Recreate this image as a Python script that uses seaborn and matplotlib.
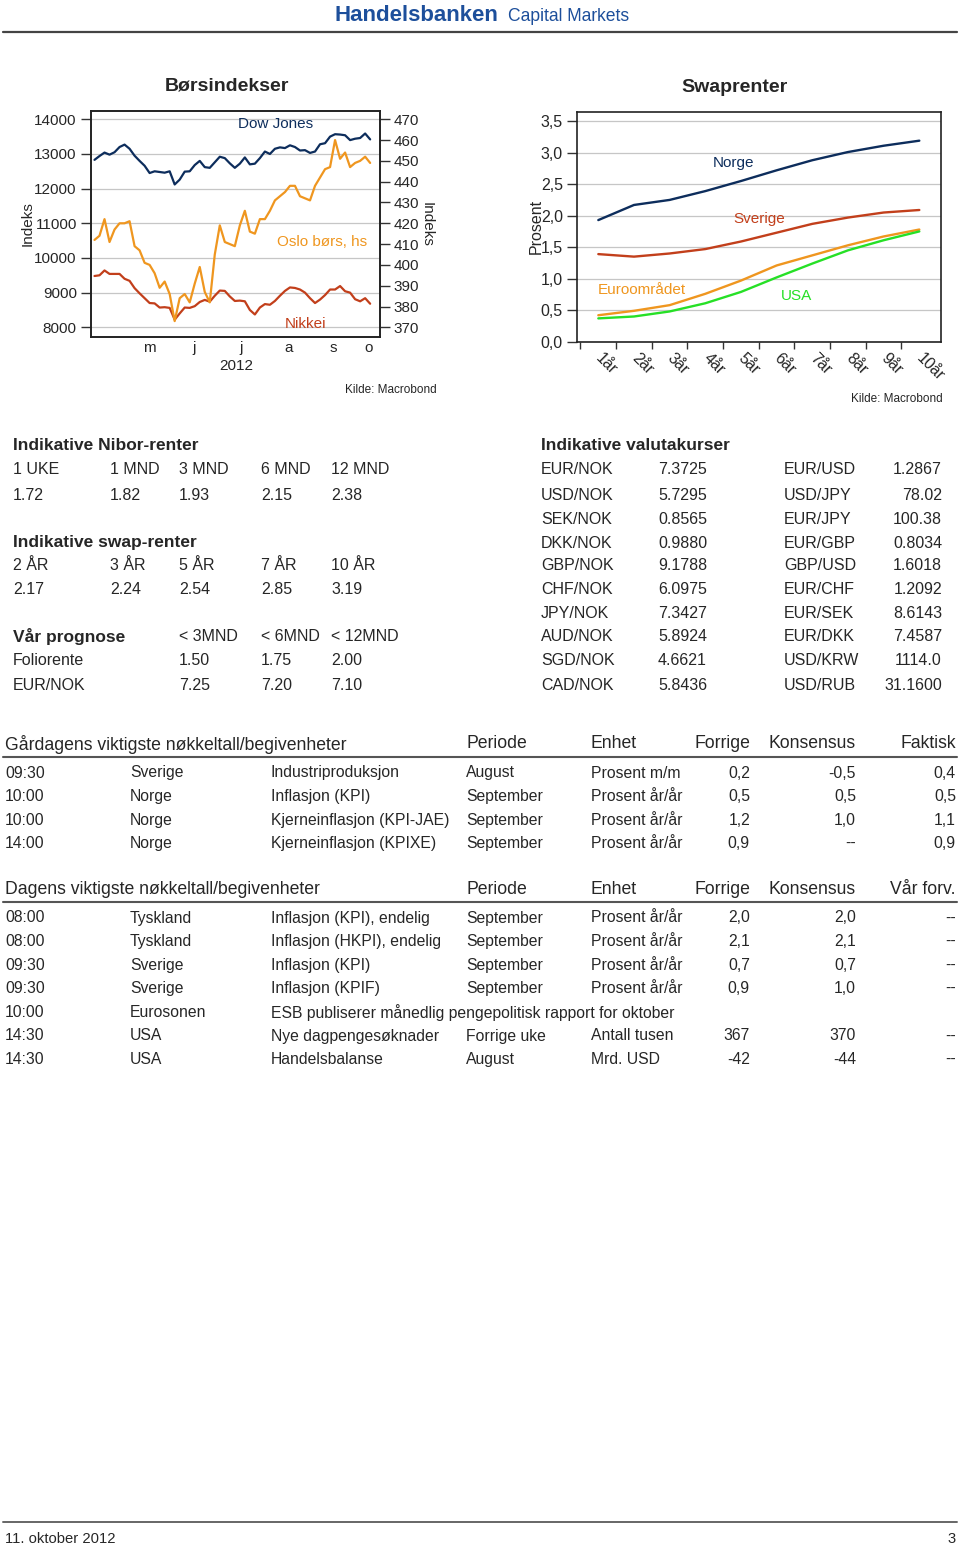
import numpy as np
import pandas as pd
import seaborn as sns
import matplotlib
matplotlib.use("Agg")
import matplotlib.pyplot as plt
import matplotlib.dates as mdates
from matplotlib import font_manager
from matplotlib.lines import Line2D
from matplotlib.ticker import NullFormatter

# ---------------- data: Børsindekser ----------------
dow = [12830, 12940, 13040, 12980, 13050, 13200, 13270, 13150, 12950, 12800,
       12660, 12450, 12500, 12480, 12460, 12500, 12120, 12260, 12490, 12500,
       12680, 12800, 12620, 12600, 12760, 12920, 12880, 12730, 12600, 12720,
       12900, 12700, 12720, 12880, 13070, 13000, 13150, 13190, 13170, 13250,
       13200, 13100, 13110, 13030, 13070, 13280, 13310, 13500, 13570, 13560,
       13540, 13400, 13440, 13460, 13590, 13420]
oslo = [412, 414, 422, 411, 417, 420, 420, 421, 409, 407,
        401, 400, 396, 389, 392, 386, 373, 384, 386, 382,
        391, 399, 387, 382, 405, 419, 411, 410, 409, 419,
        426, 416, 415, 422, 422, 426, 431, 433, 435, 438,
        438, 433, 432, 431, 438, 442, 446, 447, 460, 451,
        454, 447, 449, 450, 452, 449]
nikkei = [9480, 9500, 9640, 9540, 9540, 9540, 9400, 9340, 9130, 8980,
          8840, 8700, 8690, 8570, 8580, 8560, 8220, 8400, 8570, 8560,
          8610, 8730, 8790, 8740, 8910, 9060, 9050, 8890, 8760, 8770,
          8750, 8500, 8370, 8570, 8670, 8650, 8760, 8910, 9050, 9150,
          9135, 9090, 9000, 8840, 8700, 8800, 8930, 9090, 9090, 9190,
          9040, 9000, 8810, 8750, 8840, 8680]
datoer = pd.date_range("2012-04-11", "2012-10-10", periods=len(dow))
mnd_labels = ["m", "j", "j", "a", "s", "o"]
mnd_pos = ["2012-05-17", "2012-06-16", "2012-07-17", "2012-08-17", "2012-09-16", "2012-10-09"]

# ---------------- data: Swaprenter ----------------
lopetid = list(range(1, 11))
lop_labels = [f"{n}år" for n in lopetid]
norge = [1.93, 2.17, 2.25, 2.39, 2.55, 2.72, 2.88, 3.01, 3.11, 3.19]
sverige = [1.39, 1.35, 1.40, 1.47, 1.59, 1.73, 1.87, 1.97, 2.05, 2.09]
euro = [0.42, 0.49, 0.58, 0.76, 0.97, 1.21, 1.37, 1.53, 1.67, 1.78]
usa = [0.37, 0.40, 0.48, 0.61, 0.79, 1.02, 1.24, 1.45, 1.61, 1.75]

# ---------------- data: tabeller ----------------
nibor_hdr = ["1 UKE", "1 MND", "3 MND", "6 MND", "12 MND"]
nibor_val = ["1.72", "1.82", "1.93", "2.15", "2.38"]
swap_hdr = ["2 ÅR", "3 ÅR", "5 ÅR", "7 ÅR", "10 ÅR"]
swap_val = ["2.17", "2.24", "2.54", "2.85", "3.19"]
prog_hdr = ["< 3MND", "< 6MND", "< 12MND"]
prog_rows = [("Foliorente", "1.50", "1.75", "2.00"),
             ("EUR/NOK", "7.25", "7.20", "7.10")]

val_par1 = ["EUR/NOK", "USD/NOK", "SEK/NOK", "DKK/NOK", "GBP/NOK",
            "CHF/NOK", "JPY/NOK", "AUD/NOK", "SGD/NOK", "CAD/NOK"]
val_kurs1 = ["7.3725", "5.7295", "0.8565", "0.9880", "9.1788",
             "6.0975", "7.3427", "5.8924", "4.6621", "5.8436"]
val_par2 = ["EUR/USD", "USD/JPY", "EUR/JPY", "EUR/GBP", "GBP/USD",
            "EUR/CHF", "EUR/SEK", "EUR/DKK", "USD/KRW", "USD/RUB"]
val_kurs2 = ["1.2867", "78.02", "100.38", "0.8034", "1.6018",
             "1.2092", "8.6143", "7.4587", "1114.0", "31.1600"]

gaar_rows = [
    ("09:30", "Sverige", "Industriproduksjon", "August", "Prosent m/m", "0,2", "-0,5", "0,4"),
    ("10:00", "Norge", "Inflasjon (KPI)", "September", "Prosent år/år", "0,5", "0,5", "0,5"),
    ("10:00", "Norge", "Kjerneinflasjon (KPI-JAE)", "September", "Prosent år/år", "1,2", "1,0", "1,1"),
    ("14:00", "Norge", "Kjerneinflasjon (KPIXE)", "September", "Prosent år/år", "0,9", "--", "0,9"),
]
dag_rows = [
    ("08:00", "Tyskland", "Inflasjon (KPI), endelig", "September", "Prosent år/år", "2,0", "2,0", "--"),
    ("08:00", "Tyskland", "Inflasjon (HKPI), endelig", "September", "Prosent år/år", "2,1", "2,1", "--"),
    ("09:30", "Sverige", "Inflasjon (KPI)", "September", "Prosent år/år", "0,7", "0,7", "--"),
    ("09:30", "Sverige", "Inflasjon (KPIF)", "September", "Prosent år/år", "0,9", "1,0", "--"),
    ("10:00", "Eurosonen", "ESB publiserer månedlig pengepolitisk rapport for oktober", "", "", "", "", ""),
    ("14:30", "USA", "Nye dagpengesøknader", "Forrige uke", "Antall tusen", "367", "370", "--"),
    ("14:30", "USA", "Handelsbalanse", "August", "Mrd. USD", "-42", "-44", "--"),
]

NAVY = "#0d2d5c"
ORANGE = "#ef961f"
RED = "#c23f1b"
GREEN = "#26e026"
LOGO = "#1d4f9b"
GRID = "#c6c6c6"

sns.set_style("white")
plt.rcParams['font.family'] = ['Liberation Sans', 'DejaVu Sans']

try:
    font_manager.findfont(font_manager.FontProperties(family='Liberation Sans Narrow'),
                          fallback_to_default=False)
    NARROW = ['Liberation Sans Narrow', 'DejaVu Sans']
    NK = 1.0
except ValueError:
    NARROW = ['Liberation Sans', 'DejaVu Sans']
    NK = 0.82

W, H = 960, 1546
fig = plt.figure(figsize=(9.6, 15.46), dpi=100)


def txt(x, y, s, **kw):
    kw.setdefault('va', 'center')
    fig.text(x / W, 1 - y / H, s, **kw)


def hline(y, lw=1.5, color='#444444'):
    fig.add_artist(Line2D([3 / W, 957 / W], [1 - y / H] * 2, color=color, lw=lw))


# ---------------- header / footer ----------------
txt(334, 21, "Handelsbanken", va='baseline', fontsize=19.5 * NK, fontweight='bold',
    color=LOGO, family=NARROW)
txt(508, 21, "Capital Markets", va='baseline', fontsize=15.4 * NK, color=LOGO, family=NARROW)
hline(32, lw=1.6)
hline(1522, lw=1.4, color='#666666')
txt(5, 1539, "11. oktober 2012", fontsize=13 * NK, family=NARROW)
txt(956, 1539, "3", ha='right', fontsize=13 * NK, family=NARROW)

# ---------------- Børsindekser ----------------
df_b = pd.DataFrame({"dato": datoer, "Dow Jones": dow, "Nikkei": nikkei, "Oslo": oslo})

ax = fig.add_axes([90.7 / W, 1 - 336.7 / H, 289.3 / W, 226 / H])
sns.lineplot(data=df_b, x="dato", y="Dow Jones", color=NAVY, lw=1.6, ax=ax)
sns.lineplot(data=df_b, x="dato", y="Nikkei", color=RED, lw=1.6, ax=ax)
ax.set_ylim(7729, 14248)
ax.set_yticks(range(8000, 14001, 1000))
ax.yaxis.grid(True, color=GRID, lw=0.9)
ax.set_axisbelow(True)
ax.set_xlim(mdates.date2num(pd.Timestamp("2012-04-08 12:00")),
            mdates.date2num(pd.Timestamp("2012-10-16 12:00")))
ax.xaxis.set_major_locator(mdates.MonthLocator())
ax.xaxis.set_major_formatter(NullFormatter())
ax.set_xticks([mdates.date2num(pd.Timestamp(d)) for d in mnd_pos], minor=True)
ax.set_xticklabels(mnd_labels, minor=True)
ax.tick_params(axis='x', which='minor', length=0, pad=3, labelsize=11)
ax.tick_params(axis='x', which='major', length=4, width=1, direction='out', color='#333333')
ax.tick_params(axis='y', length=7, width=1, labelsize=11, pad=3, color='#333333', left=True)
ax.set_xlabel("")
ax.set_ylabel("")
for s in ax.spines.values():
    s.set_color('#222222')
    s.set_linewidth(1.2)

ax2 = ax.twinx()
sns.lineplot(data=df_b, x="dato", y="Oslo", color=ORANGE, lw=1.6, ax=ax2)
ax2.set_ylim(365.5, 474.1)
ax2.set_yticks(range(370, 471, 10))
ax2.tick_params(axis='y', length=7, width=1, labelsize=11, pad=3, color='#333333', right=True)
ax2.set_ylabel("")
ax2.set_xlabel("")
for s in ax2.spines.values():
    s.set_color('#222222')
    s.set_linewidth(1.2)

txt(227, 86, "Børsindekser", ha='center', fontsize=14, fontweight='bold')
txt(28, 224, "Indeks", ha='center', rotation=90, fontsize=11)
txt(427, 224, "Indeks", ha='center', rotation=270, fontsize=11)
txt(236, 366, "2012", ha='center', fontsize=11)
txt(437, 390, "Kilde: Macrobond", ha='right', fontsize=8.5)
txt(276, 124, "Dow Jones", ha='center', fontsize=11, color=NAVY)
txt(322, 242, "Oslo børs, hs", ha='center', fontsize=11, color=ORANGE)
txt(306, 324, "Nikkei", ha='center', fontsize=11, color=RED)

# ---------------- Swaprenter ----------------
df_s = pd.DataFrame({
    "lop": lopetid * 4,
    "rente": norge + sverige + euro + usa,
    "land": ["Norge"] * 10 + ["Sverige"] * 10 + ["Euroområdet"] * 10 + ["USA"] * 10,
})
ax3 = fig.add_axes([576.7 / W, 1 - 341.7 / H, 364.3 / W, 230 / H])
sns.lineplot(data=df_s, x="lop", y="rente", hue="land",
             palette={"Norge": NAVY, "Sverige": RED, "Euroområdet": ORANGE, "USA": GREEN},
             lw=1.7, legend=False, ax=ax3)
ax3.set_xlim(0.394, 10.608)
ax3.set_ylim(0, 3.65)
yt = np.arange(0, 3.51, 0.5)
ax3.set_yticks(yt)
ax3.set_yticklabels([f"{v:.1f}".replace(".", ",") for v in yt])
ax3.yaxis.grid(True, color=GRID, lw=0.9)
ax3.set_axisbelow(True)
ax3.set_xticks(np.arange(0.5, 10, 1))
ax3.xaxis.set_major_formatter(NullFormatter())
ax3.set_xticks(lopetid, minor=True)
ax3.set_xticklabels(lop_labels, minor=True)
plt.setp(ax3.get_xticklabels(minor=True), rotation=-45, ha='left', va='center',
         rotation_mode='anchor')
ax3.tick_params(axis='x', which='minor', length=0, pad=10, labelsize=11.5)
ax3.tick_params(axis='x', which='major', length=5, width=1, direction='out', color='#333333', bottom=True)
ax3.tick_params(axis='y', length=7, width=1, labelsize=11.5, pad=3, color='#333333', left=True)
ax3.set_xlabel("")
ax3.set_ylabel("")
for s in ax3.spines.values():
    s.set_color('#222222')
    s.set_linewidth(1.2)

txt(734, 87, "Swaprenter", ha='center', fontsize=14, fontweight='bold')
txt(536, 226, "Prosent", ha='center', rotation=90, fontsize=11.5)
txt(943, 399, "Kilde: Macrobond", ha='right', fontsize=8.5)
txt(733, 163, "Norge", ha='center', fontsize=11, color=NAVY)
txt(759, 219, "Sverige", ha='center', fontsize=11, color=RED)
txt(642, 290, "Euroområdet", ha='center', fontsize=11, color=ORANGE)
txt(797, 296, "USA", ha='center', fontsize=11, color=GREEN)

# ---------------- Nibor / swap / prognose ----------------
TS = 11.5
BS = 12.5
ncol = [13, 110, 179, 261, 331]
txt(13, 446, "Indikative Nibor-renter", fontsize=BS, fontweight='bold')
for x, s in zip(ncol, nibor_hdr):
    txt(x, 469, s, fontsize=TS)
for x, s in zip(ncol, nibor_val):
    txt(x, 496, s, fontsize=TS)
txt(13, 543, "Indikative swap-renter", fontsize=BS, fontweight='bold')
for x, s in zip(ncol, swap_hdr):
    txt(x, 566, s, fontsize=TS)
for x, s in zip(ncol, swap_val):
    txt(x, 590, s, fontsize=TS)
txt(13, 637, "Vår prognose", fontsize=BS, fontweight='bold')
for x, s in zip(ncol[2:], prog_hdr):
    txt(x, 637, s, fontsize=TS)
for y, row in zip([661, 685], prog_rows):
    txt(13, y, row[0], fontsize=TS)
    for x, s in zip(ncol[2:], row[1:]):
        txt(x, y, s, fontsize=TS)

# ---------------- valutakurser ----------------
txt(541, 446, "Indikative valutakurser", fontsize=BS, fontweight='bold')
vy = [469, 496, 519, 543, 566, 590, 614, 637, 661, 685]
for i, y in enumerate(vy):
    txt(541, y, val_par1[i], fontsize=TS)
    txt(658, y, val_kurs1[i], fontsize=TS)
    txt(784, y, val_par2[i], fontsize=TS)
    txt(942, y, val_kurs2[i], fontsize=TS, ha='right')

# ---------------- nøkkeltall-tabeller ----------------
HS = 15.5 * NK
RS = 13.8 * NK
left_x = [5, 130, 271, 466, 591]
right_x = [750, 856, 956]


def tabell(y_hdr, tittel, siste, rows):
    txt(5, y_hdr, tittel, fontsize=HS, family=NARROW)
    txt(466, y_hdr, "Periode", fontsize=HS, family=NARROW)
    txt(591, y_hdr, "Enhet", fontsize=HS, family=NARROW)
    for x, s in zip(right_x, ["Forrige", "Konsensus", siste]):
        txt(x, y_hdr, s, fontsize=HS, family=NARROW, ha='right')
    hline(y_hdr + 13, lw=1.5, color='#555555')
    for i, row in enumerate(rows):
        y = y_hdr + 29 + i * 23.6
        for x, s in zip(left_x, row[:5]):
            if s:
                txt(x, y, s, fontsize=RS, family=NARROW)
        for x, s in zip(right_x, row[5:]):
            if s:
                txt(x, y, s, fontsize=RS, family=NARROW, ha='right')


tabell(744, "Gårdagens viktigste nøkkeltall/begivenheter", "Faktisk", gaar_rows)
tabell(889, "Dagens viktigste nøkkeltall/begivenheter", "Vår forv.", dag_rows)

fig.savefig("out.png", dpi=100)
